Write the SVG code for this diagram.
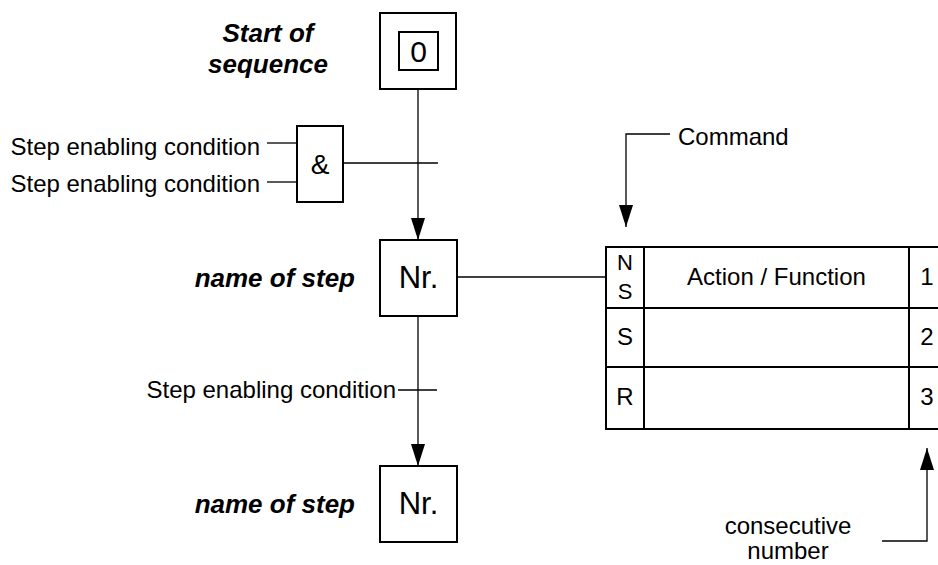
<svg xmlns="http://www.w3.org/2000/svg" width="938" height="565" viewBox="0 0 938 565">
<style>
text{font-family:"Liberation Sans",Arial,sans-serif;fill:#000}
.t{font-size:24px}
.bi{font-size:26px;font-weight:bold;font-style:italic}
.box{fill:#fff;stroke:#000;stroke-width:2}
.ln{fill:none;stroke:#000;stroke-width:1.3}
</style>
<defs>
<marker id="ah" markerWidth="22" markerHeight="14" refX="22" refY="7" viewBox="0 0 22 14" markerUnits="userSpaceOnUse" orient="auto">
<path d="M0,0 L22,7 L0,14 Z" fill="#000"/>
</marker>
</defs>
<rect width="938" height="565" fill="#fff"/>
<g id="connectors">
<line class="ln" x1="418" y1="89" x2="418" y2="240" marker-end="url(#ah)"/>
<line class="ln" x1="418" y1="316" x2="418" y2="466" marker-end="url(#ah)"/>
<line class="ln" x1="267" y1="143" x2="297" y2="143"/>
<line class="ln" x1="267" y1="182" x2="297" y2="182"/>
<line class="ln" x1="343" y1="163" x2="438" y2="163"/>
<line class="ln" x1="398" y1="390" x2="437" y2="390"/>
<line class="ln" x1="457" y1="277" x2="606" y2="277"/>
<polyline class="ln" points="670,134 626,134 626,227" marker-end="url(#ah)"/>
<polyline class="ln" points="882,541 927,541 927,448" marker-end="url(#ah)"/>
</g>
<g id="start">
<rect class="box" x="380" y="13" width="76" height="76"/>
<rect class="box" x="399" y="32" width="39" height="38"/>
<text x="418.5" y="62" font-size="30" text-anchor="middle">0</text>
<text class="bi" x="268" y="42" text-anchor="middle">Start of</text>
<text class="bi" x="268" y="73" text-anchor="middle">sequence</text>
</g>
<g id="and">
<rect class="box" x="297" y="126" width="46" height="76"/>
<text x="320" y="174" font-size="28" text-anchor="middle">&amp;</text>
<text class="t" x="260" y="155" text-anchor="end">Step enabling condition</text>
<text class="t" x="260" y="192" text-anchor="end">Step enabling condition</text>
</g>
<g id="step1">
<rect class="box" x="380" y="240" width="77" height="76"/>
<text x="418.5" y="288" font-size="31" text-anchor="middle">Nr.</text>
<text class="bi" x="355" y="287" text-anchor="end">name of step</text>
</g>
<g id="cond">
<text class="t" x="396" y="398" text-anchor="end">Step enabling condition</text>
</g>
<g id="step2">
<rect class="box" x="380" y="466" width="77" height="76"/>
<text x="418.5" y="514" font-size="31" text-anchor="middle">Nr.</text>
<text class="bi" x="355" y="513" text-anchor="end">name of step</text>
</g>
<g id="actions">
<rect class="box" x="606" y="247" width="336" height="182"/>
<line class="box" x1="644" y1="247" x2="644" y2="429"/>
<line class="box" x1="909" y1="247" x2="909" y2="429"/>
<line class="box" x1="606" y1="308" x2="942" y2="308"/>
<line class="box" x1="606" y1="367" x2="942" y2="367"/>
<text x="625" y="270" font-size="22" text-anchor="middle">N</text>
<text x="625" y="299" font-size="22" text-anchor="middle">S</text>
<text class="t" x="776.5" y="285" text-anchor="middle">Action / Function</text>
<text class="t" x="927" y="285" text-anchor="middle">1</text>
<text class="t" x="625" y="345" text-anchor="middle">S</text>
<text class="t" x="927" y="345" text-anchor="middle">2</text>
<text class="t" x="625" y="405" text-anchor="middle">R</text>
<text class="t" x="927" y="405" text-anchor="middle">3</text>
</g>
<g id="command">
<text class="t" x="678" y="145">Command</text>
</g>
<g id="consecutive">
<text class="t" x="788" y="534" text-anchor="middle">consecutive</text>
<text class="t" x="788" y="559" text-anchor="middle">number</text>
</g>
</svg>
